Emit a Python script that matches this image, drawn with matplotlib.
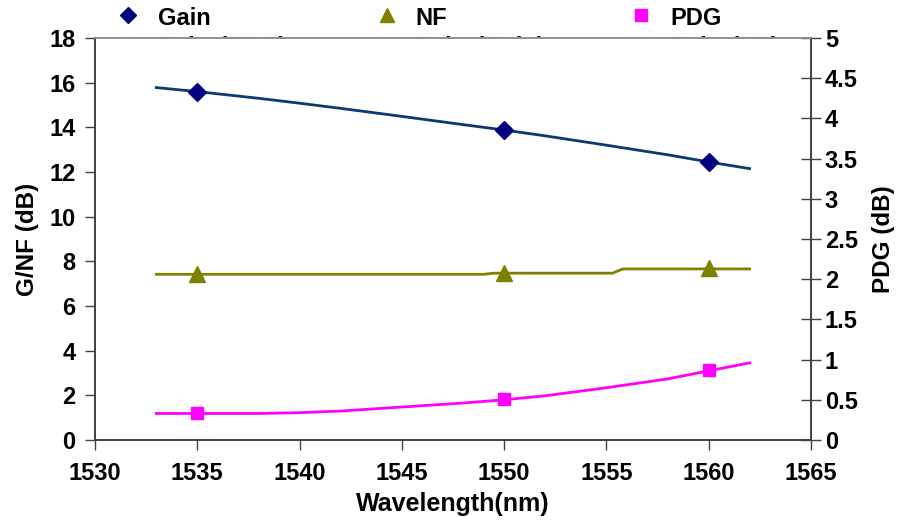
import matplotlib
matplotlib.use("Agg")
import matplotlib.pyplot as plt
from matplotlib.lines import Line2D

plt.rcParams['font.family'] = ['Liberation Sans', 'DejaVu Sans']
plt.rcParams['font.weight'] = 'bold'

# measured points (markers)
meas_wl = [1535, 1550, 1560]
gain_meas = [15.6, 13.88, 12.45]
nf_meas = [7.42, 7.48, 7.68]
pdg_meas = [0.33, 0.51, 0.87]

# trendlines
trend_wl = [1533, 1535, 1538, 1540, 1542, 1545, 1548, 1550, 1552, 1555, 1558, 1560, 1562]
gain_trend = [15.78, 15.6, 15.3, 15.08, 14.85, 14.49, 14.12, 13.88, 13.62, 13.2, 12.77, 12.45, 12.15]
nf_trend_wl = [1533, 1549, 1549.5, 1555.3, 1555.8, 1562]
nf_trend = [7.42, 7.42, 7.47, 7.47, 7.66, 7.66]
pdg_trend = [0.33, 0.33, 0.33, 0.34, 0.36, 0.41, 0.46, 0.50, 0.55, 0.65, 0.76, 0.86, 0.96]

x_ticks = [1530, 1535, 1540, 1545, 1550, 1555, 1560, 1565]
yl_ticks = [0, 2, 4, 6, 8, 10, 12, 14, 16, 18]
yr_ticks = [0, 0.5, 1, 1.5, 2, 2.5, 3, 3.5, 4, 4.5, 5]
yr_labels = ['0', '0.5', '1', '1.5', '2', '2.5', '3', '3.5', '4', '4.5', '5']

W, H = 903, 526
fig = plt.figure(figsize=(W / 100, H / 100), dpi=100)
L, R, B, T = 95, 811, 440, 38
ax = fig.add_axes([L / W, 1 - B / H, (R - L) / W, (B - T) / H])
ax.set_facecolor('white')
ax.set_zorder(1)
ax2 = ax.twinx()
ax2.set_zorder(2)
ax2.patch.set_visible(False)

gain_line_c = '#0B3A6E'
gain_mk_c = '#000080'
nf_c = '#808000'
pdg_c = '#FF00FF'

ax.plot(trend_wl, gain_trend, color=gain_line_c, lw=2, zorder=3)
ax.plot(meas_wl, gain_meas, ls='none', marker='D', ms=9, color=gain_mk_c, zorder=4)
ax.plot(nf_trend_wl, nf_trend, color=nf_c, lw=2, zorder=3)
ax.plot(meas_wl, nf_meas, ls='none', marker='^', ms=11, color=nf_c, zorder=4)
ax2.plot(trend_wl, pdg_trend, color=pdg_c, lw=2, zorder=3)
ax2.plot(meas_wl, pdg_meas, ls='none', marker='s', ms=9, color=pdg_c, zorder=4)

ax.set_xlim(1530, 1565)
ax.set_ylim(0, 18)
ax2.set_ylim(0, 5)
ax.set_xticks(x_ticks)
ax.set_yticks(yl_ticks)
ax2.set_yticks(yr_ticks)
ax2.set_yticklabels(yr_labels)

fs = 17
ax.tick_params(axis='x', direction='out', length=7, width=1, labelsize=fs, pad=9, color='#404040')
ax.tick_params(axis='y', direction='out', length=7, width=1, labelsize=fs, pad=7, color='#404040')
ax2.tick_params(axis='y', direction='inout', length=14, width=1, labelsize=fs, pad=3, color='#404040')
for a in (ax, ax2):
    for s in a.spines.values():
        s.set_color('#404040')
        s.set_linewidth(1.2)
    a.spines['top'].set_color('#909090')
    for lab in a.get_xticklabels() + a.get_yticklabels():
        lab.set_fontweight('bold')

ax.set_xlabel('Wavelength(nm)', fontsize=18, fontweight='bold', labelpad=5)
ax.set_ylabel('G/NF (dB)', fontsize=17.5, fontweight='bold', labelpad=7)
ax2.set_ylabel('PDG (dB)', fontsize=17.5, fontweight='bold', labelpad=10)

# legend (manual) : first row visible, second row hidden behind the plot area
def fx(px):
    return px / W

def fy(py):
    return 1 - py / H

leg = [('D', gain_mk_c, 'Gain', 'Poly. (PDG)', 128, 158),
       ('^', nf_c, 'NF', 'Poly. (Gain)', 387, 415),
       ('s', pdg_c, 'PDG', 'Poly. (NF)', 641, 670)]
for mk, c, t1, t2, mx, tx in leg:
    fig.add_artist(Line2D([fx(mx)], [fy(15)], marker=mk, ms=8 if mk != '^' else 10,
                          color=c, ls='none', transform=fig.transFigure))
    fig.text(fx(tx), fy(25), t1, fontsize=17, fontweight='bold', va='baseline', ha='left')
    fig.text(fx(tx), fy(54), t2, fontsize=17, fontweight='bold', va='baseline', ha='left',
             zorder=0)

fig.savefig('out.png', dpi=100)
